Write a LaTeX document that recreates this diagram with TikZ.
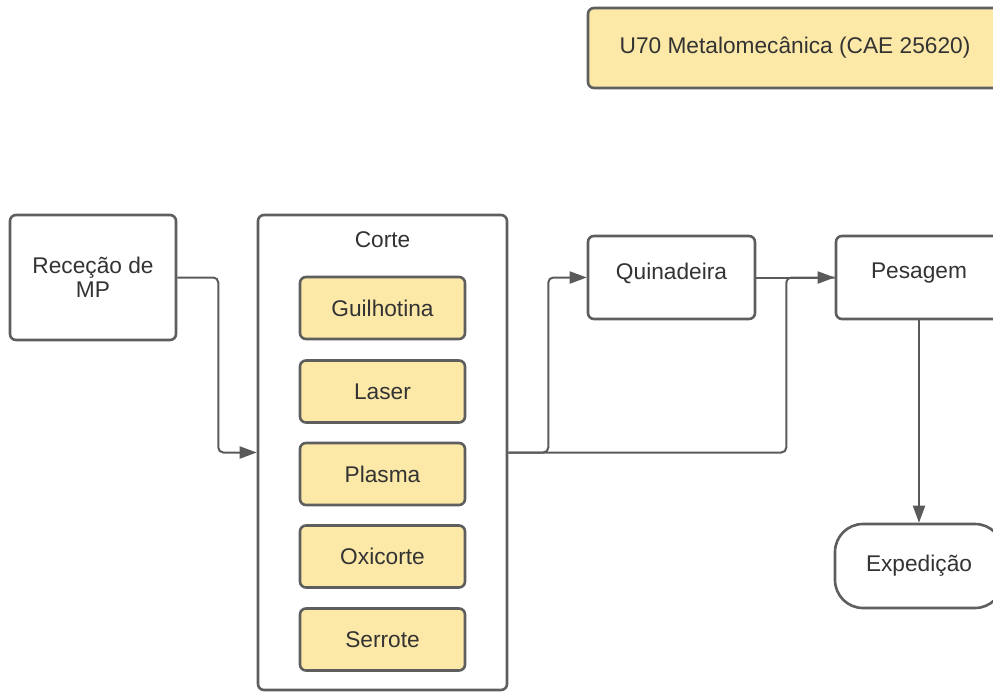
\documentclass[tikz,border=0pt]{standalone}
\usepackage{fontspec}
\setmainfont{Liberation Sans}
\usetikzlibrary{arrows.meta}
\definecolor{edge}{HTML}{5E5E5E}
\definecolor{wire}{HTML}{5A5A5A}
\definecolor{ink}{HTML}{333333}
\definecolor{sand}{HTML}{FCE9A8}
\begin{document}
\begin{tikzpicture}[x=1pt,y=-1pt,
  every node/.style={font=\fontsize{22.7}{27}\selectfont, text=ink},
  box/.style={draw=edge, line width=2.6pt, rounded corners=6pt, fill=white,
              inner sep=0pt, align=center},
  tool/.style={box, fill=sand, minimum width=165pt, minimum height=62pt},
  term/.style={box, rounded corners=28pt},
  conn/.style={draw=wire, line width=2pt, rounded corners=5pt,
               -{Triangle[length=17pt,width=12pt]}},
  link/.style={draw=wire, line width=2pt, rounded corners=5pt}]
\useasboundingbox (0,0) rectangle (993,691);
\clip (0,0) rectangle (993,691);

% header
\node[box, fill=sand, minimum width=414pt, minimum height=80pt] (unit) at (795,48)
  {U70 Metalomecânica (CAE 25620)};

% process steps
\node[box, minimum width=166pt, minimum height=125pt] (rec) at (93,277.5)
  {Receção de\\[-3pt]MP};
\node[box, minimum width=249pt, minimum height=475pt] (corte) at (382.5,452.5) {};
\node[anchor=center] (cortet) at (382.5,240) {Corte};
\node[tool] (guil) at (382.5,308) {Guilhotina};
\node[tool] (laser) at (382.5,391.5) {Laser};
\node[tool] (plasma) at (382.5,474) {Plasma};
\node[tool] (oxi) at (382.5,556.5) {Oxicorte};
\node[tool] (serr) at (382.5,639.5) {Serrote};
\node[box, minimum width=167pt, minimum height=83pt] (quin) at (671.5,277.5) {};
\node (quint) at (671.5,273) {Quinadeira};
\node[box, minimum width=166pt, minimum height=83pt] (pes) at (919,277.5) {};
\node (pest) at (919,273) {Pesagem};
\node[term, minimum width=168pt, minimum height=84pt] (exp) at (919,566) {Expedição};

% flow
\draw[conn] (rec.east) -- ++(41,0) |- (corte.west);
\draw[conn] (corte.east) -- ++(40,0) |- (quin.west);
\draw[link] (corte.east) -- ++(278,0) |- (pes.west);
\draw[conn] (quin.east) -- (pes.west);
\draw[conn] (pes.south) -- (exp.north);
\end{tikzpicture}
\end{document}
